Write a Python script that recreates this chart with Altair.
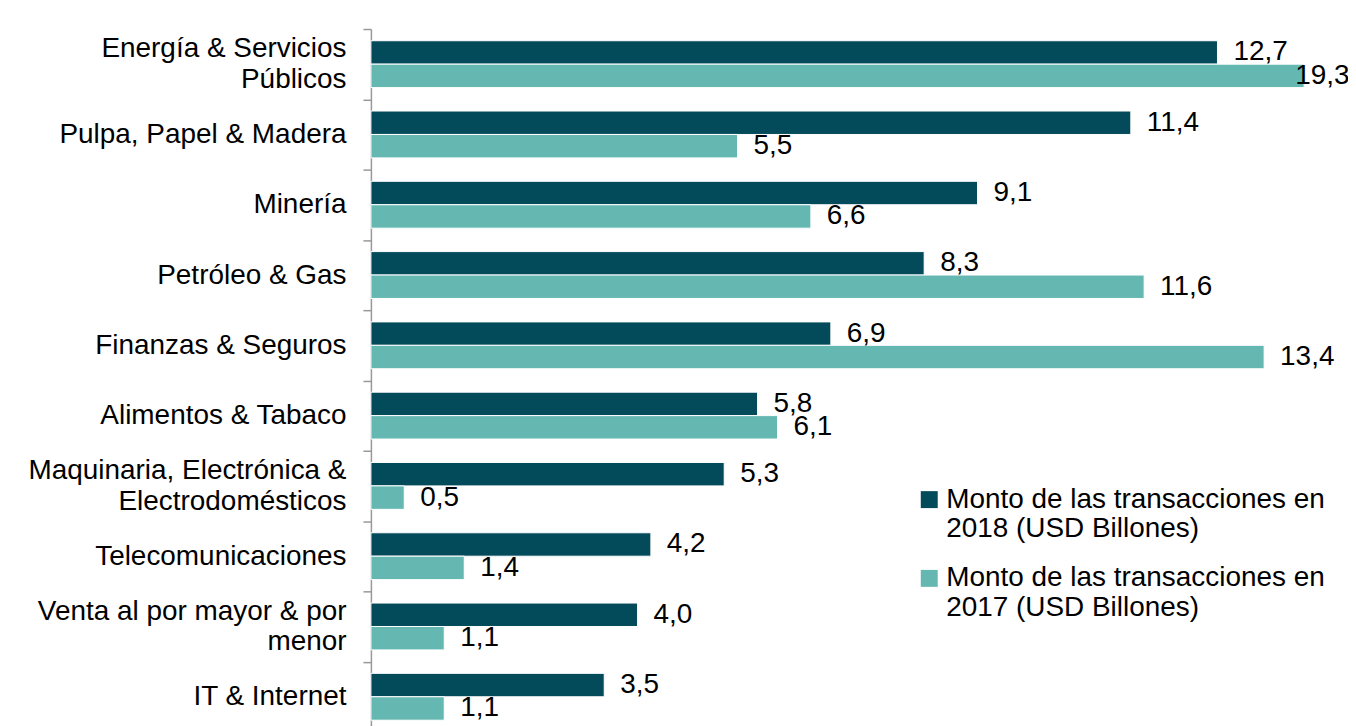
import altair as alt
import pandas as pd

categories = [
    "Energía & Servicios|Públicos",
    "Pulpa, Papel & Madera",
    "Minería",
    "Petróleo & Gas",
    "Finanzas & Seguros",
    "Alimentos & Tabaco",
    "Maquinaria, Electrónica &|Electrodomésticos",
    "Telecomunicaciones",
    "Venta al por mayor & por|menor",
    "IT & Internet",
]
v2018 = [12.7, 11.4, 9.1, 8.3, 6.9, 5.8, 5.3, 4.2, 4.0, 3.5]
v2017 = [19.3, 5.5, 6.6, 11.6, 13.4, 6.1, 0.5, 1.4, 1.1, 1.1]
series = [
    "Monto de las transacciones en|2018 (USD Billones)",
    "Monto de las transacciones en|2017 (USD Billones)",
]
colors = ["#034A5A", "#65B8B2"]
x_max = 14

rows = []
for c, a, b in zip(categories, v2018, v2017):
    rows.append({"cat": c, "serie": series[0], "value": a, "label": f"{a:.1f}".replace(".", ",")})
    rows.append({"cat": c, "serie": series[1], "value": b, "label": f"{b:.1f}".replace(".", ",")})
df = pd.DataFrame(rows)

FONT = "Liberation Sans"
FS = 28

y_enc = alt.Y(
    "cat:N",
    sort=categories,
    scale=alt.Scale(paddingInner=0, paddingOuter=0),
    axis=alt.Axis(
        title=None,
        labelExpr="datum.value ? split(datum.value, '|') : ''",
        labelFont=FONT,
        labelFontSize=FS,
        labelColor="#000000",
        labelLineHeight=31,
        labelPadding=17,
        labelLimit=0,
        labelOffset={
            "condition": {
                "test": "isString(datum.value) && indexof(datum.value, '|') >= 0",
                "value": -15.5,
            },
            "value": 0,
        },
        tickBand="extent",
        tickSize=8,
        tickColor="#999999",
        tickWidth=1.5,
        domainColor="#999999",
        domainWidth=1.5,
        orient="left",
    ),
)
yoff = alt.YOffset("serie:N", sort=series, scale=alt.Scale(paddingOuter=0.5, paddingInner=0))
x_enc = alt.X("value:Q", scale=alt.Scale(domain=[0, x_max], clamp=True), axis=None)

base = alt.Chart(df)

bars = base.mark_bar(stroke="white", strokeWidth=1).encode(
    y=y_enc,
    yOffset=yoff,
    x=x_enc,
    color=alt.Color(
        "serie:N",
        sort=series,
        scale=alt.Scale(domain=series, range=colors),
        legend=alt.Legend(
            title=None,
            orient="none",
            legendX=546,
            legendY=458,
            symbolType="square",
            symbolSize=289,
            symbolStrokeWidth=0,
            labelFont=FONT,
            labelFontSize=FS,
            labelColor="#000000",
            labelLimit=0,
            labelExpr="split(datum.value, '|')",
            rowPadding=21,
            labelOffset=3,
        ),
    ),
)

text_in = base.transform_filter(f"datum.value <= {x_max}").mark_text(
    align="left", baseline="middle", dx=16, font=FONT, fontSize=FS, color="#000000"
).encode(y=alt.Y("cat:N", sort=categories), yOffset=yoff, x=x_enc, text="label:N")

text_out = base.transform_filter(f"datum.value > {x_max}").mark_text(
    align="left", baseline="middle", dx=-9, font=FONT, fontSize=FS, color="#000000"
).encode(y=alt.Y("cat:N", sort=categories), yOffset=yoff, x=x_enc, text="label:N")

chart = (
    alt.layer(bars, text_in, text_out)
    .properties(
        width=936,
        height=705,
        autosize=alt.AutoSizeParams(type="none"),
        padding={"left": 364, "top": 20, "right": 44, "bottom": 0},
    )
    .configure_view(stroke=None)
)

chart.save("out.html", embed_options={"renderer": "svg", "actions": False})
